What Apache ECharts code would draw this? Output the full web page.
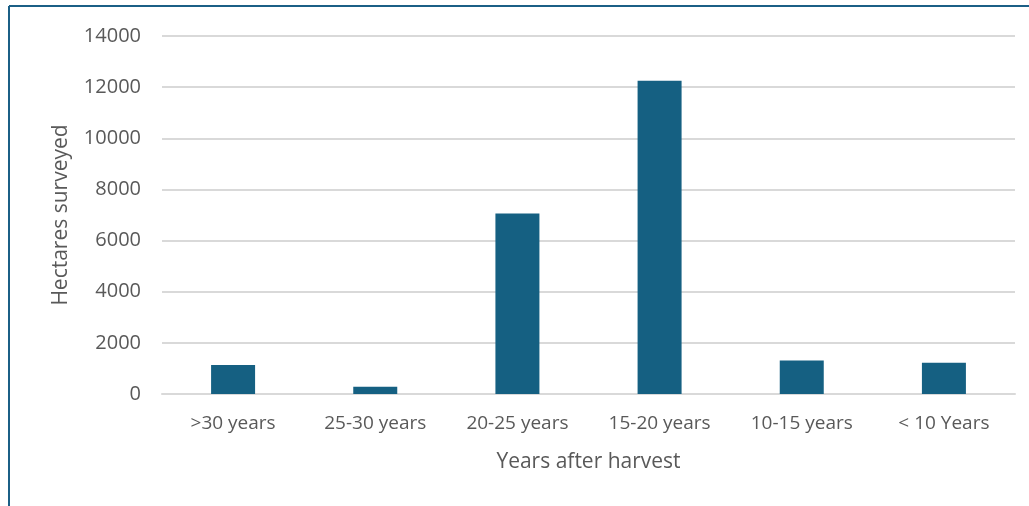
<!DOCTYPE html>
<html>
<head>
<meta charset="utf-8">
<script src="https://cdn.jsdelivr.net/npm/echarts@6/dist/echarts.min.js"></script>
<style>
  html, body { margin: 0; padding: 0; background: #ffffff; }
  #chart { width: 1029px; height: 506px; }
</style>
</head>
<body>
<div id="chart"></div>
<script>
// Hectares surveyed by time since harvest
const categories = ['>30 years', '25-30 years', '20-25 years', '15-20 years', '10-15 years', '< 10 Years'];
const hectares = [1130, 280, 7060, 12250, 1310, 1220];
const yTicks = { min: 0, max: 14000, step: 2000 };

const FONT = '"Open Sans", "Liberation Sans", sans-serif';
const TEXT = '#595959';
const FRAME = '#1b5f86';

const chart = echarts.init(document.getElementById('chart'), null, { renderer: 'canvas' });

chart.setOption({
  animation: false,
  backgroundColor: '#ffffff',
  grid: { left: 162, right: 14, top: 36, bottom: 112, containLabel: false },
  xAxis: {
    type: 'category',
    data: categories,
    name: 'Years after harvest',
    nameLocation: 'middle',
    nameGap: 58,
    nameTextStyle: { color: TEXT, fontSize: 21, fontFamily: FONT },
    axisLine: { show: true, lineStyle: { color: '#d9d9d9', width: 2 } },
    axisTick: { show: false },
    axisLabel: { color: TEXT, fontSize: 19, fontFamily: FONT, margin: 20 }
  },
  yAxis: {
    type: 'value',
    min: yTicks.min,
    max: yTicks.max,
    interval: yTicks.step,
    name: 'Hectares surveyed',
    nameLocation: 'middle',
    nameGap: 90,
    nameRotate: 90,
    nameTextStyle: { color: TEXT, fontSize: 21, fontFamily: FONT },
    axisLine: { show: false },
    axisTick: { show: false },
    splitLine: { lineStyle: { color: '#d9d9d9', width: 2 } },
    axisLabel: { color: TEXT, fontSize: 20, fontFamily: FONT, margin: 21, formatter: v => String(v) }
  },
  series: [{
    type: 'bar',
    data: hectares,
    barWidth: 44,
    itemStyle: { color: '#156082' }
  }],
  graphic: [
    { type: 'line', shape: { x1: 9, y1: 6, x2: 1029, y2: 6 }, style: { stroke: FRAME, lineWidth: 2 } },
    { type: 'line', shape: { x1: 9, y1: 6, x2: 9, y2: 506 }, style: { stroke: FRAME, lineWidth: 2 } }
  ]
});
</script>
</body>
</html>
